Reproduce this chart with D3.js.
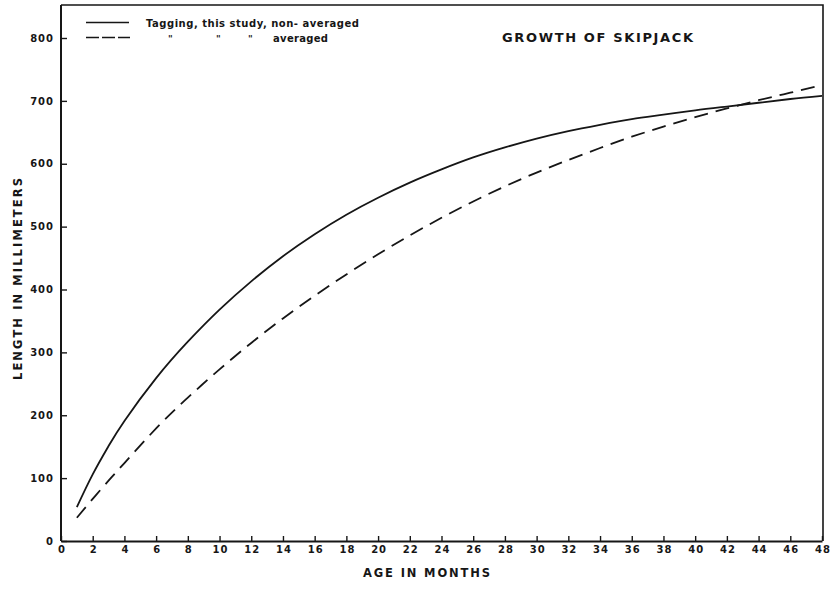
<!DOCTYPE html>
<html>
<head>
<meta charset="utf-8">
<script src="https://cdn.jsdelivr.net/npm/d3@7"></script>
<style>
  body { margin: 0; background: #fff; }
  text { font-family: "DejaVu Sans", sans-serif; fill: #161616; font-weight: bold; }
</style>
</head>
<body>
<svg width="836" height="592"></svg>
<script>
// age in months
const months = [1, 2, 3, 4, 6, 8, 10, 12, 14, 16, 18, 20, 22, 24, 26, 28, 30, 32, 34, 36, 38, 40, 42, 44, 46, 48];
// tagging, this study, non-averaged (mm)
const nonAveraged = [54, 106, 151, 191, 259, 317, 368, 413, 453, 488, 519, 546, 570, 591, 610, 626, 640, 652, 662, 671, 678, 685, 691, 697, 703, 708];
// tagging, this study, averaged (mm)
const averaged = [37, 67, 96, 124, 179, 228, 273, 315, 354, 390, 424, 456, 486, 514, 540, 564, 586, 606, 625, 643, 659, 674, 688, 701, 713, 725];

const xTicks = d3.range(0, 49, 2);
const yTicks = d3.range(0, 801, 100);

const svg = d3.select('svg');

const x = d3.scaleLinear().domain([0, 48]).range([61, 822]);
const y = d3.scaleLinear().domain([0, 800]).range([541, 38]);

// frame (top + right)
svg.append('path')
    .attr('d', `M61,5 H823 V541`)
    .attr('fill', 'none')
    .attr('stroke', '#161616')
    .attr('stroke-width', 1.6);

// axes, ticks pointing inward
const xAxis = svg.append('g')
    .attr('transform', 'translate(0,541)')
    .call(d3.axisBottom(x).tickValues(xTicks).tickSizeInner(-5).tickSizeOuter(0).tickPadding(5));

const yAxis = svg.append('g')
    .attr('transform', 'translate(61,0)')
    .call(d3.axisLeft(y).tickValues(yTicks).tickSizeInner(-6).tickSizeOuter(0).tickPadding(8));

[xAxis, yAxis].forEach(a => {
    a.select('.domain').attr('stroke', '#161616').attr('stroke-width', 2);
    a.selectAll('.tick line').attr('stroke', '#161616').attr('stroke-width', 1.4);
    a.selectAll('.tick text')
        .attr('font-family', '"DejaVu Sans", sans-serif')
        .attr('font-size', 10)
        .attr('font-weight', 'bold')
        .attr('letter-spacing', 1)
        .attr('fill', '#161616');
});
yAxis.select('.domain').attr('d', 'M0,5 V541');
yAxis.selectAll('.tick text').attr('dx', 1);
xAxis.selectAll('.tick text').attr('dx', 0.5);

// curves
const line = d3.line()
    .x((d, i) => x(months[i]))
    .y(d => y(d))
    .curve(d3.curveNatural);

svg.append('path')
    .attr('d', line(nonAveraged))
    .attr('fill', 'none')
    .attr('stroke', '#161616')
    .attr('stroke-width', 1.8);

svg.append('path')
    .attr('d', line(averaged))
    .attr('fill', 'none')
    .attr('stroke', '#161616')
    .attr('stroke-width', 1.8)
    .attr('stroke-dasharray', '14,8');

// legend
const legend = svg.append('g');
legend.append('line')
    .attr('x1', 86).attr('x2', 129).attr('y1', 22.5).attr('y2', 22.5)
    .attr('stroke', '#161616').attr('stroke-width', 1.5);
legend.append('line')
    .attr('x1', 86).attr('x2', 130).attr('y1', 37.5).attr('y2', 37.5)
    .attr('stroke', '#161616').attr('stroke-width', 1.5)
    .attr('stroke-dasharray', '13,3');

legend.append('text')
    .attr('x', 146).attr('y', 26.5)
    .attr('font-size', 10)
    .attr('textLength', 213)
    .text('Tagging, this study, non- averaged');
[168, 216, 248].forEach(px => {
    legend.append('text')
        .attr('x', px).attr('y', 42)
        .attr('font-size', 9)
        .text('"');
});
legend.append('text')
    .attr('x', 273).attr('y', 41.5)
    .attr('font-size', 10)
    .attr('textLength', 55)
    .text('averaged');

// title
svg.append('text')
    .attr('x', 502).attr('y', 41.5)
    .attr('font-size', 13)
    .attr('textLength', 191)
    .text('GROWTH OF SKIPJACK');

// axis titles
svg.append('text')
    .attr('x', 363).attr('y', 577)
    .attr('font-size', 11.5)
    .attr('textLength', 127)
    .text('AGE IN MONTHS');

svg.append('text')
    .attr('transform', 'translate(22,380) rotate(-90)')
    .attr('font-size', 11.5)
    .attr('textLength', 202)
    .text('LENGTH IN MILLIMETERS');
</script>
</body>
</html>
